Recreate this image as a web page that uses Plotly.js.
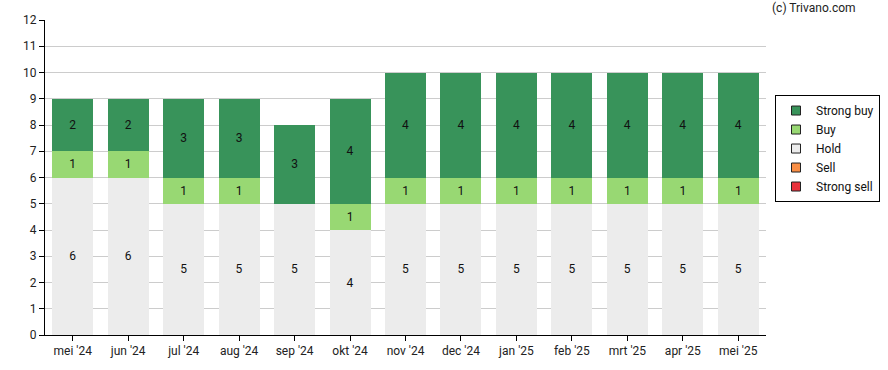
<!DOCTYPE html>
<html><head><meta charset="utf-8">
<script src="https://cdn.plot.ly/plotly-3.0.1.min.js"></script>
<style>body{margin:0;padding:0;background:#fff}</style>
</head><body><div id="chart" style="width:888px;height:370px"></div>
<script>
const categories = ["mei '24","jun '24","jul '24","aug '24","sep '24","okt '24","nov '24","dec '24","jan '25","feb '25","mrt '25","apr '25","mei '25"];
const strongSell = [0,0,0,0,0,0,0,0,0,0,0,0,0];
const sell       = [0,0,0,0,0,0,0,0,0,0,0,0,0];
const hold       = [6,6,5,5,5,4,5,5,5,5,5,5,5];
const buy        = [1,1,1,1,0,1,1,1,1,1,1,1,1];
const strongBuy  = [2,2,3,3,3,4,4,4,4,4,4,4,4];
const yTicks = [0,1,2,3,4,5,6,7,8,9,10,11,12];

function tr(name, vals, color){
  return {type:'bar', name:name, x:categories, y:vals, showlegend:false, legendgroup:name,
    text: vals.map(v => v ? String(v) : ''), textposition:'inside', insidetextanchor:'middle',
    textfont:{family:'Roboto, sans-serif', size:12, color:'#111'},
    marker:{color:color, line:{width:0}}, hoverinfo:'none'};
}
function lg(name, color){
  return {type:'scatter', mode:'markers', name:name, legendgroup:name, x:[null], y:[null], showlegend:true,
    marker:{symbol:'square', size:9, color:color, line:{width:1, color:'#222'}}, hoverinfo:'none'};
}
const series = [
  ['Strong sell', strongSell, '#e8323c'],
  ['Sell', sell, '#f98e45'],
  ['Hold', hold, '#ececec'],
  ['Buy', buy, '#98d873'],
  ['Strong buy', strongBuy, '#38935a']
];
const data = series.map(s => tr(s[0], s[1], s[2])).concat(series.map(s => lg(s[0], s[2])));
const layout = {
  width:888, height:370, barmode:'stack', bargap:0.26,
  margin:{l:45, r:122, t:20, b:35, autoexpand:false},
  paper_bgcolor:'#fff', plot_bgcolor:'#fff',
  font:{family:'Roboto, sans-serif', size:12, color:'#222'},
  xaxis:{type:'category', categoryorder:'array', categoryarray:categories, showline:true, linecolor:'#000', linewidth:1, ticks:'outside', ticklen:5, tickcolor:'#000', showgrid:false, tickfont:{size:12, color:'#222'}},
  yaxis:{range:[0,12], tickvals:yTicks, showline:true, linecolor:'#000', linewidth:1, ticks:'outside', ticklen:5, tickcolor:'#000', gridcolor:'#cccccc', gridwidth:1, zeroline:false, tickfont:{size:12, color:'#222'}},
  showlegend:true,
  legend:{x:1.0125, y:0.592, xanchor:'left', yanchor:'middle', traceorder:'reversed', bordercolor:'#000', borderwidth:1, bgcolor:'#fff', font:{size:12, color:'#111'}, itemwidth:30, tracegroupgap:0},
  annotations:[{text:'(c) Trivano.com', xref:'paper', yref:'paper', x:1.1276, y:1.0, xanchor:'right', yanchor:'bottom', yshift:3, showarrow:false, font:{size:12, color:'#222'}}]
};
Plotly.newPlot('chart', data, layout, {staticPlot:true});
</script></body></html>
